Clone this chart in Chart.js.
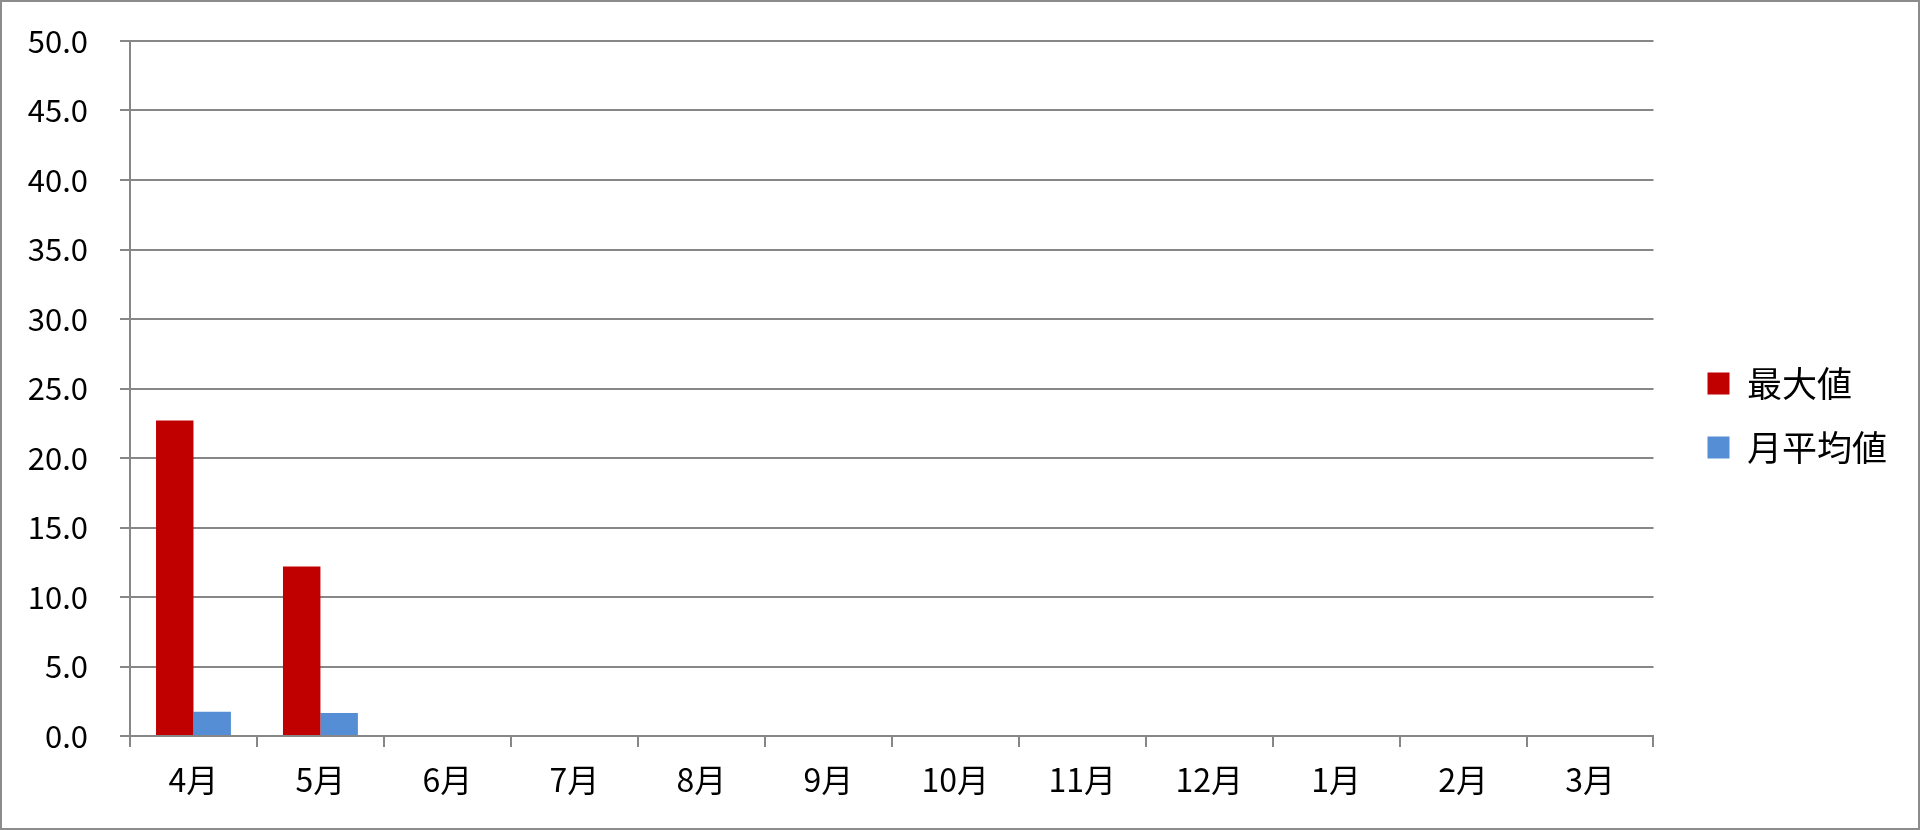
<!DOCTYPE html>
<html>
<head>
<meta charset="utf-8">
<script src="https://cdn.jsdelivr.net/npm/chart.js@4"></script>
<style>
    html, body { margin: 0; padding: 0; background: #fff; }
    #wrap {
        width: 1920px;
        height: 830px;
        box-sizing: border-box;
        border: 2px solid #8c8c8c;
        background: #fff;
    }
    #chart { display: block; }
</style>
</head>
<body>
<div id="wrap"><canvas id="chart" width="1916" height="826"></canvas></div>
<script>
// categories and series
const months = ['4月', '5月', '6月', '7月', '8月', '9月', '10月', '11月', '12月', '1月', '2月', '3月'];
const maxValues = [22.7, 12.2, null, null, null, null, null, null, null, null, null, null];
const avgValues = [1.75, 1.65, null, null, null, null, null, null, null, null, null, null];
const seriesNames = ['最大値', '月平均値'];

const fontFamily = "'Noto Sans CJK JP', 'Noto Sans', sans-serif";
const gridColor = '#878787';

// legend sits a bit away from the plot, like the original
const legendGap = {
    id: 'legendGap',
    afterLayout(chart) {
        let lg = chart.legend;
        if (lg) {
            lg.left += 25;
            lg.right += 25;
            lg.top -= 19;
            lg.bottom -= 19;
        }
    }
};

let ctx = document.getElementById('chart').getContext('2d');
let chart = new Chart(ctx, {
    type: 'bar',
    data: {
        labels: months,
        datasets: [
            {
                label: seriesNames[0],
                data: maxValues,
                backgroundColor: '#C00000',
                barPercentage: 1.0,
                categoryPercentage: 0.59
            },
            {
                label: seriesNames[1],
                data: avgValues,
                backgroundColor: '#558ED5',
                barPercentage: 1.0,
                categoryPercentage: 0.59
            }
        ]
    },
    options: {
        responsive: false,
        animation: false,
        devicePixelRatio: 1,
        layout: {
            padding: { left: 0, top: 39, right: 46, bottom: 0 }
        },
        scales: {
            x: {
                grid: {
                    drawOnChartArea: false,
                    drawTicks: true,
                    tickLength: 11,
                    color: gridColor,
                    lineWidth: 2
                },
                border: { color: gridColor, width: 2 },
                ticks: {
                    color: '#000',
                    padding: 14,
                    font: { family: fontFamily, size: 32 }
                },
                afterFit: (scale) => { scale.height = 92; }
            },
            y: {
                min: 0,
                max: 50,
                grid: {
                    color: gridColor,
                    lineWidth: 2,
                    tickLength: 10
                },
                border: { color: gridColor, width: 2 },
                ticks: {
                    stepSize: 5,
                    color: '#000',
                    padding: 32,
                    font: { family: fontFamily, size: 31 },
                    callback: (value) => value.toFixed(1)
                },
                afterFit: (scale) => {
                    scale.width = 128;
                    scale.paddingTop = 0;
                }
            }
        },
        plugins: {
            legend: {
                position: 'right',
                labels: {
                    color: '#000',
                    boxWidth: 22,
                    boxHeight: 22,
                    padding: 29,
                    font: { family: fontFamily, size: 35 }
                }
            },
            tooltip: { enabled: false }
        }
    },
    plugins: [legendGap]
});
</script>
</body>
</html>
